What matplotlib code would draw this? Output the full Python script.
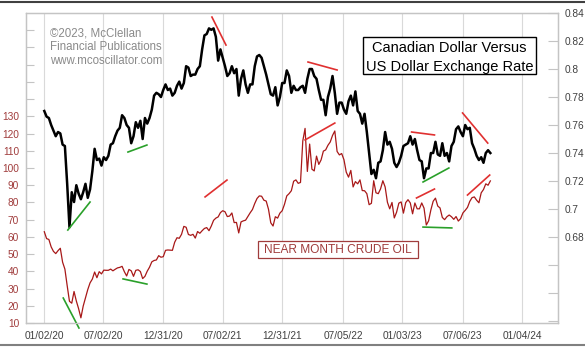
import matplotlib
matplotlib.use("Agg")
import matplotlib.pyplot as plt
import matplotlib.patches as mpatches
import pandas as pd

plt.rcParams['font.family'] = ['Liberation Sans', 'DejaVu Sans']

# ---------------- data (weekly, Fridays) ----------------
cad_2020 = [0.770, 0.766, 0.765, 0.760, 0.756,
            0.752, 0.755, 0.754, 0.746,
            0.745, 0.718, 0.687, 0.712,
            0.705, 0.717, 0.711, 0.707,
            0.712, 0.718, 0.708, 0.714, 0.727,
            0.743, 0.735, 0.736, 0.731,
            0.737, 0.735, 0.738, 0.746, 0.747,
            0.752, 0.756, 0.758, 0.767,
            0.765, 0.760, 0.758, 0.747,
            0.752, 0.762, 0.758, 0.763, 0.750,
            0.765, 0.761, 0.765, 0.771,
            0.781, 0.783, 0.782, 0.780]
cad_2021 = [0.785, 0.789, 0.785, 0.786, 0.781,
            0.783, 0.788, 0.791, 0.786,
            0.790, 0.802, 0.801, 0.795,
            0.796, 0.796, 0.800, 0.802, 0.814,
            0.824, 0.825, 0.829, 0.828,
            0.829, 0.823, 0.806, 0.814,
            0.808, 0.802, 0.795, 0.797, 0.802,
            0.797, 0.800, 0.781, 0.793,
            0.799, 0.789, 0.783, 0.789,
            0.789, 0.802, 0.809, 0.810, 0.808,
            0.802, 0.796, 0.789, 0.782,
            0.781, 0.787, 0.774, 0.780, 0.790]
cad_2022 = [0.790, 0.799, 0.795, 0.783,
            0.788, 0.785, 0.785, 0.787,
            0.788, 0.783, 0.793, 0.800,
            0.800, 0.795, 0.793, 0.785, 0.778,
            0.778, 0.767, 0.780, 0.786,
            0.795, 0.783, 0.768, 0.776,
            0.776, 0.771, 0.768, 0.777, 0.781,
            0.774, 0.784, 0.770, 0.768,
            0.761, 0.768, 0.755, 0.740, 0.725,
            0.728, 0.722, 0.733, 0.734,
            0.742, 0.755, 0.746, 0.748,
            0.743, 0.733, 0.730, 0.733, 0.738]
cad_2023 = [0.745, 0.746, 0.747, 0.752,
            0.746, 0.750, 0.742, 0.735,
            0.734, 0.722, 0.729, 0.729, 0.740,
            0.740, 0.748, 0.739, 0.738,
            0.747, 0.738, 0.740, 0.734,
            0.745, 0.748, 0.757, 0.759, 0.755,
            0.752, 0.760, 0.757, 0.758,
            0.747, 0.743, 0.738, 0.735,
            0.737, 0.733, 0.740, 0.742, 0.740]

oil_2020 = [63.0, 59.0, 58.5, 54.2, 51.6,
            50.3, 52.0, 53.4, 45.3,
            41.3, 31.7, 22.6, 21.5,
            28.3, 22.8, 18.3, 13.0,
            19.8, 24.7, 29.4, 33.3, 35.5,
            39.6, 36.3, 39.8, 38.5,
            40.7, 40.6, 40.6, 41.3, 40.3,
            41.2, 42.0, 42.3, 42.9,
            39.8, 37.3, 41.1, 40.3,
            37.1, 40.6, 40.9, 39.9, 35.8,
            37.1, 40.1, 42.4, 45.5,
            46.3, 46.6, 49.1, 48.2]
oil_2021 = [48.5, 52.2, 52.4, 52.3, 52.2,
            56.9, 59.5, 59.2, 61.5,
            66.1, 65.6, 61.4, 60.9,
            61.5, 59.3, 63.1, 62.1, 63.6,
            64.9, 65.4, 63.6, 66.3,
            69.6, 70.9, 71.6, 74.1,
            75.2, 74.6, 71.8, 72.1, 73.9,
            68.3, 68.4, 62.3, 68.7,
            69.3, 69.7, 71.9, 74.0,
            75.9, 79.4, 82.3, 83.8, 83.6,
            81.3, 80.8, 76.1, 68.2,
            66.3, 71.7, 70.9, 73.8, 75.2]
oil_2022 = [78.9, 83.8, 85.1, 86.8,
            92.3, 93.1, 91.1, 91.6,
            115.7, 123.0, 98.0, 113.9,
            99.3, 98.3, 106.9, 102.1, 104.7,
            109.8, 110.5, 113.2, 115.1,
            118.9, 121.5, 109.6, 107.6,
            108.4, 104.8, 97.6, 94.7, 98.6,
            89.0, 92.1, 90.8, 93.1,
            86.9, 86.8, 85.1, 78.7, 79.5,
            92.6, 85.6, 85.1, 87.9,
            92.6, 89.0, 80.1, 76.3,
            80.0, 71.0, 74.3, 79.6, 80.3]
oil_2023 = [73.8, 79.9, 81.6, 79.7,
            73.4, 79.7, 76.3, 76.3,
            79.7, 76.7, 66.9, 69.3, 75.7,
            80.7, 82.5, 77.9, 76.8,
            71.3, 70.0, 71.7, 72.7,
            71.7, 70.2, 71.8, 69.2, 70.6,
            73.9, 75.4, 77.1, 80.6,
            82.8, 83.2, 81.3, 79.8,
            85.6, 87.5, 90.8, 90.0, 92.5]

cad = cad_2020 + cad_2021 + cad_2022 + cad_2023
oil = oil_2020 + oil_2021 + oil_2022 + oil_2023
dates = pd.date_range('2020-01-03', periods=len(cad), freq='W-FRI')

x_tick_dates = ['2020-01-02', '2020-07-02', '2020-12-31', '2021-07-02', '2021-12-31',
                '2022-07-05', '2023-01-03', '2023-07-06', '2024-01-04']
x_tick_labels = ['01/02/20', '07/02/20', '12/31/20', '07/02/21', '12/31/21',
                 '07/05/22', '01/03/23', '07/06/23', '01/04/24']

oil_ticks = list(range(10, 190, 10))
cad_ticks = [0.62, 0.64, 0.66, 0.68, 0.70, 0.72, 0.74, 0.76, 0.78, 0.80, 0.82, 0.84]

# trend lines: (start date, start value, end date, end value)
cad_green = [('2020-03-15', 0.685, '2020-05-22', 0.705),
             ('2020-09-15', 0.7407, '2020-11-12', 0.7457),
             ('2023-03-07', 0.7193, '2023-05-25', 0.7293)]
cad_red = [('2021-05-30', 0.8371, '2021-07-12', 0.8171),
           ('2022-03-20', 0.805, '2022-06-17', 0.7993),
           ('2023-01-31', 0.755, '2023-04-11', 0.7529),
           ('2023-07-06', 0.7686, '2023-09-21', 0.7471)]
oil_green = [('2020-03-01', 24.5, '2020-04-18', 7.1),
             ('2020-08-31', 35.6, '2020-11-12', 32.6),
             ('2023-03-07', 65.7, '2023-06-03', 65.2)]
oil_red = [('2021-05-09', 83.2, '2021-07-15', 93.0),
           ('2022-03-11', 116.3, '2022-06-10', 126.1),
           ('2023-02-15', 82.6, '2023-04-11', 87.8),
           ('2023-07-21', 84.3, '2023-09-27', 95.9)]

# ---------------- figure ----------------
W, H = 585, 347
fig = plt.figure(figsize=(W / 100, H / 100), dpi=100)
fig.patch.set_facecolor('white')

ax = fig.add_axes([26 / W, 1 - 323 / H, (558 - 26) / W, (323 - 13) / H])
ax2 = ax.twinx()

OIL_C = '#a81818'
LBL_RED = '#a03c3c'
GRID_C = '#d9d9d9'
SPINE_C = '#c4c4c4'
TXT_C = '#404040'

ax.plot(dates, oil, color=OIL_C, lw=0.9, zorder=3)
ax2.plot(dates, cad, color='black', lw=1.8, zorder=3)

for d0, v0, d1, v1 in oil_green:
    ax.plot([pd.Timestamp(d0), pd.Timestamp(d1)], [v0, v1], color='#2aa02a', lw=1.2, clip_on=False, zorder=4)
for d0, v0, d1, v1 in oil_red:
    ax.plot([pd.Timestamp(d0), pd.Timestamp(d1)], [v0, v1], color='#e03030', lw=1.2, clip_on=False, zorder=4)
for d0, v0, d1, v1 in cad_green:
    ax2.plot([pd.Timestamp(d0), pd.Timestamp(d1)], [v0, v1], color='#2aa02a', lw=1.2, clip_on=False, zorder=4)
for d0, v0, d1, v1 in cad_red:
    ax2.plot([pd.Timestamp(d0), pd.Timestamp(d1)], [v0, v1], color='#e03030', lw=1.2, clip_on=False, zorder=4)

ax.set_xlim(pd.Timestamp('2019-11-08'), pd.Timestamp('2024-04-23'))
ax.set_ylim(10, 190)
ax2.set_ylim(0.6186, 0.840)

ax.set_xticks([pd.Timestamp(d) for d in x_tick_dates])
ax.set_xticklabels(x_tick_labels)
ax.grid(axis='x', color=GRID_C, lw=0.8, zorder=0)
ax.tick_params(axis='x', length=0, pad=6, labelsize=7.3, labelcolor=TXT_C)

ax.set_yticks(oil_ticks)
ax.set_yticklabels([str(t) if t <= 130 else '' for t in oil_ticks])
ax.tick_params(axis='y', direction='in', length=6, color=SPINE_C, pad=5,
               labelsize=7.3, labelcolor=LBL_RED)

ax2.set_yticks(cad_ticks)
ax2.set_yticklabels([f'{t:g}' if t >= 0.68 else '' for t in cad_ticks])
ax2.tick_params(axis='y', direction='in', length=7, color=SPINE_C, pad=5,
                labelsize=7.3, labelcolor=TXT_C)

for a in (ax, ax2):
    for s in a.spines.values():
        s.set_color(SPINE_C)
        s.set_linewidth(0.9)

# copyright block
for txt, yy in zip(['©2023, McClellan', 'Financial Publications', 'www.mcoscillator.com'],
                   [0.935, 0.890, 0.845]):
    ax2.text(0.0451, yy, txt, transform=ax2.transAxes, ha='left', va='center',
             fontsize=8.3, color='#8a8a8a', zorder=5)

# title box
ax2.add_patch(mpatches.Rectangle((0.6335, 0.803), 0.3251, 0.1196, transform=ax2.transAxes,
                                 fc='white', ec='black', lw=1.0, zorder=6))
ax2.text(0.796, 0.8871, 'Canadian Dollar Versus', transform=ax2.transAxes,
         ha='center', va='center', fontsize=10.5, color='black', zorder=7)
ax2.text(0.796, 0.8258, 'US Dollar Exchange Rate', transform=ax2.transAxes,
         ha='center', va='center', fontsize=10.5, color='black', zorder=7)

# crude oil label box
ax2.add_patch(mpatches.Rectangle((0.4361, 0.2097), 0.3007, 0.0548, transform=ax2.transAxes,
                                 fc='white', ec=LBL_RED, lw=0.9, zorder=6))
ax2.text(0.5865, 0.2355, 'NEAR MONTH CRUDE OIL', transform=ax2.transAxes,
         ha='center', va='center', fontsize=8.6, color=LBL_RED, zorder=7)

# figure border lines (top and bottom)
fig.add_artist(plt.Line2D([0, 1], [1 - 2 / H, 1 - 2 / H], color='#404040', lw=1.5, transform=fig.transFigure))
fig.add_artist(plt.Line2D([0, 1], [2 / H, 2 / H], color='#808080', lw=1.5, transform=fig.transFigure))

fig.savefig('out.png', dpi=100, facecolor='white')
